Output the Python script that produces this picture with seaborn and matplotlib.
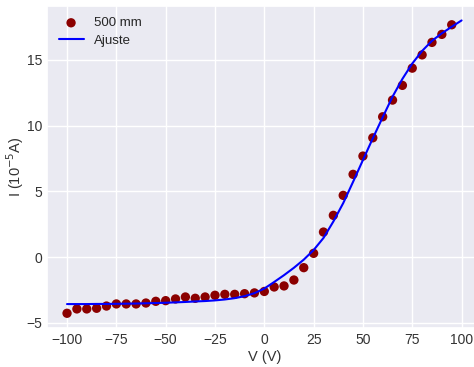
import numpy as np
import pandas as pd
import matplotlib
matplotlib.use("Agg")
import matplotlib.pyplot as plt
import seaborn as sns

# Measured photocurrent vs. retarding voltage (500 mm)
voltage = [-100, -95, -90, -85, -80, -75, -70, -65, -60, -55,
           -50, -45, -40, -35, -30, -25, -20, -15, -10, -5,
           0, 5, 10, 15, 20, 25, 30, 35, 40, 45,
           50, 55, 60, 65, 70, 75, 80, 85, 90, 95]
current = [-4.28, -3.95, -3.95, -3.90, -3.73, -3.57, -3.57, -3.57, -3.50, -3.37,
           -3.32, -3.19, -3.04, -3.14, -3.04, -2.91, -2.84, -2.84, -2.79, -2.73,
           -2.62, -2.28, -2.20, -1.75, -0.81, 0.28, 1.90, 3.17, 4.69, 6.29,
           7.68, 9.07, 10.67, 11.94, 13.06, 14.37, 15.38, 16.33, 16.94, 17.67]

# Fitted curve
fit_v = [-100, -95, -90, -85, -80, -75, -70, -65, -60, -55,
         -50, -45, -40, -35, -30, -25, -20, -15, -10, -5,
         0, 5, 10, 15, 20, 25, 30, 35, 40, 45,
         50, 55, 60, 65, 70, 75, 80, 85, 90, 95, 100]
fit_i = [-3.58, -3.58, -3.58, -3.57, -3.57, -3.56, -3.55, -3.54, -3.52, -3.50,
         -3.48, -3.45, -3.42, -3.38, -3.35, -3.30, -3.23, -3.13, -2.98, -2.75,
         -2.40, -1.90, -1.38, -0.82, -0.20, 0.53, 1.45, 2.70, 4.10, 5.72,
         7.38, 9.03, 10.63, 12.20, 13.55, 14.72, 15.68, 16.45, 17.02, 17.52, 18.00]

x_ticks = [-100, -75, -50, -25, 0, 25, 50, 75, 100]
y_ticks = [-5, 0, 5, 10, 15]

sns.set_theme(style="darkgrid")
plt.rcParams["font.family"] = ["Liberation Sans", "DejaVu Sans"]
plt.rcParams["axes.unicode_minus"] = True

data = pd.DataFrame({"V": voltage, "I": current})
fit = pd.DataFrame({"V": fit_v, "I": fit_i})

fig = plt.figure(figsize=(4.74, 3.67), dpi=100)
ax = fig.add_axes([47.3 / 474, 0.1065, 434 / 474, 0.8777])

sns.scatterplot(data=data, x="V", y="I", ax=ax, color="darkred", s=45,
                edgecolor="none", label="500 mm", zorder=3)
sns.lineplot(data=fit, x="V", y="I", ax=ax, color="blue", linewidth=1.5,
             label="Ajuste", zorder=4)

ax.set_xticks(x_ticks)
ax.set_yticks(y_ticks)
ax.tick_params(labelsize=10, colors="#333333", length=0, pad=3.5)
ax.set_xlabel("V (V)", fontsize=10.5, color="#333333", labelpad=2)
ax.set_ylabel("I (10$^{-5}$A)", fontsize=10.5, color="#333333", labelpad=0.5)
ax.legend(loc="upper left", frameon=False, fontsize=9.5,
          labelspacing=0.4, handletextpad=0.8, borderaxespad=0.45,
          handlelength=1.9)

fig.savefig("out.png", dpi=100)
